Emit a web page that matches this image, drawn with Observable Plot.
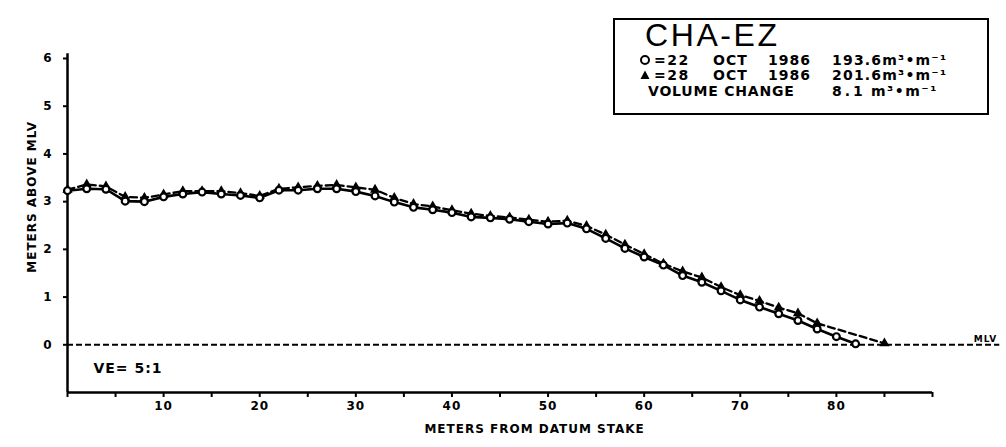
<!DOCTYPE html>
<html>
<head>
<meta charset="utf-8">
<script src="https://cdn.jsdelivr.net/npm/d3@7"></script>
<script src="https://cdn.jsdelivr.net/npm/@observablehq/plot@0.6"></script>
<style>
  html, body { margin: 0; padding: 0; background: #fff; }
  #wrap { position: relative; width: 1006px; height: 447px; overflow: hidden; background: #fff; }
  #wrap svg text { letter-spacing: 1px; }
  #legend { position: absolute; left: 613px; top: 18px; width: 376px; height: 97px; box-sizing: border-box;
            border: 2px solid #000; background: #fff; color: #000; }
  #legend span { position: absolute; white-space: pre; line-height: 14px; font-family: "DejaVu Sans", sans-serif;
                 font-weight: bold; font-size: 14px; }
  #legend .title { font-family: "Liberation Sans", sans-serif; font-weight: normal; font-size: 32px; line-height: 32px; letter-spacing: 2.6px; }
  #legend svg { position: absolute; }
</style>
</head>
<body>
<div id="wrap"></div>
<script>
// ---- data ----
const stations22 = [0,2,4,6,8,10,12,14,16,18,20,22,24,26,28,30,32,34,36,38,40,42,44,46,48,50,52,54,56,58,60,62,64,66,68,70,72,74,76,78,80,82];
const elev22 = [3.23,3.27,3.26,3.01,3.00,3.10,3.16,3.20,3.16,3.13,3.08,3.24,3.24,3.27,3.27,3.21,3.12,2.99,2.88,2.83,2.77,2.68,2.66,2.63,2.58,2.53,2.55,2.43,2.23,2.02,1.84,1.67,1.45,1.31,1.13,0.94,0.79,0.65,0.51,0.33,0.17,0.02];
const stations28 = [0,2,4,6,8,10,12,14,16,18,20,22,24,26,28,30,32,34,36,38,40,42,44,46,48,50,52,54,56,58,60,62,64,66,68,70,72,74,76,78,85];
const elev28 = [3.25,3.36,3.32,3.10,3.08,3.15,3.22,3.22,3.22,3.18,3.12,3.27,3.30,3.33,3.35,3.30,3.25,3.08,2.95,2.90,2.82,2.75,2.70,2.67,2.62,2.58,2.60,2.49,2.31,2.10,1.90,1.70,1.54,1.41,1.21,1.04,0.92,0.78,0.66,0.45,0.03];
const xTicks = [0,5,10,15,20,25,30,35,40,45,50,55,60,65,70,75,80,85,90];
const xTickLabels = [10,20,30,40,50,60,70,80];
const yTicks = [0,1,2,3,4,5,6];
const mlvExtent = [0, 97];
const yLabel = "METERS ABOVE MLV";
const xLabel = "METERS FROM DATUM STAKE";
const veNote = [{x: 2.7, y: -0.5, t: "VE= 5:1"}];
const mlvNote = [{x: 94.3, y: 0, t: "MLV"}];
const legendTitle = "CHA-EZ";
const legendRows = [
  {sym: "circle", date: ["=22", "OCT", "1986"], vol: "193.6m³•m⁻¹"},
  {sym: "triangle", date: ["=28", "OCT", "1986"], vol: "201.6m³•m⁻¹"}
];
const changeLabel = "VOLUME CHANGE", changeValue = "8.1", changeUnit = "m³•m⁻¹";

const data22 = stations22.map((x, i) => ({x, y: elev22[i]}));
const data28 = stations28.map((x, i) => ({x, y: elev28[i]}));

const chart = Plot.plot({
  width: 1006, height: 447,
  marginLeft: 67, marginRight: 74, marginTop: 58, marginBottom: 55,
  x: {domain: [0, 90]},
  y: {domain: [-1, 6]},
  style: {fontFamily: "DejaVu Sans", fontSize: "12px", fontWeight: "bold", background: "white", color: "black"},
  marks: [
    Plot.ruleY([0], {x1: mlvExtent[0], x2: mlvExtent[1], strokeDasharray: "6,3", strokeWidth: 2}),
    Plot.ruleX([0], {y1: -1, y2: 6.1, strokeWidth: 2.5}),
    Plot.ruleY([-1], {x1: 0, x2: 90, strokeWidth: 2.5}),
    Plot.axisX({ticks: xTicks, tickSize: 5, tickPadding: 4, strokeWidth: 2,
      tickFormat: d => xTickLabels.includes(d) ? String(d) : "", label: null}),
    Plot.axisY({ticks: yTicks, tickSize: 4, tickPadding: 11, strokeWidth: 2, tickFormat: d => String(d), label: null}),
    Plot.line(data22, {x: "x", y: "y", stroke: "black", strokeWidth: 2.6}),
    Plot.line(data28, {x: "x", y: "y", stroke: "black", strokeWidth: 2.3, strokeDasharray: "7,4"}),
    Plot.dot(data28, {x: "x", y: "y", symbol: "triangle", fill: "black", r: 3.8}),
    Plot.dot(data22, {x: "x", y: "y", r: 3.4, fill: "white", stroke: "black", strokeWidth: 2.2}),
    Plot.text(veNote, {x: "x", y: "y", text: "t", textAnchor: "start", fontSize: 14}),
    Plot.text(mlvNote, {x: "x", y: "y", text: "t", textAnchor: "start", fontSize: 9, dy: -6}),
    Plot.text([{y: 3.1, t: yLabel}], {y: "y", text: "t", frameAnchor: "left", textAnchor: "middle", dx: -35, rotate: -90, fontSize: 12}),
    Plot.text([{x: 48.6, t: xLabel}], {x: "x", text: "t", frameAnchor: "bottom", textAnchor: "middle", dy: 40, fontSize: 12})
  ]
});
const wrap = document.getElementById("wrap");
wrap.appendChild(chart);

// ---- legend box ----
const lg = document.createElement("div");
lg.id = "legend";
function span(text, left, top, cls, ls) {
  const s = document.createElement("span");
  s.textContent = text;
  s.style.left = left + "px";
  s.style.top = top + "px";
  if (cls) s.className = cls;
  if (ls != null) s.style.letterSpacing = ls + "px";
  lg.appendChild(s);
}
span(legendTitle, 30, -1, "title");
legendRows.forEach((r, i) => {
  const top = 33 + i * 15;
  const ns = "http://www.w3.org/2000/svg";
  const icon = document.createElementNS(ns, "svg");
  icon.setAttribute("width", 12); icon.setAttribute("height", 12);
  icon.style.left = "24px"; icon.style.top = (top + 1) + "px";
  if (r.sym === "circle") {
    const c = document.createElementNS(ns, "circle");
    c.setAttribute("cx", 6); c.setAttribute("cy", 6); c.setAttribute("r", 4);
    c.setAttribute("fill", "white"); c.setAttribute("stroke", "black"); c.setAttribute("stroke-width", 2);
    icon.appendChild(c);
  } else {
    const p = document.createElementNS(ns, "path");
    p.setAttribute("d", "M6,1.5L10.5,10L1.5,10Z");
    p.setAttribute("fill", "black");
    icon.appendChild(p);
  }
  lg.appendChild(icon);
  span(r.date[0], 39, top, null, 1.5);
  span(r.date[1], 98, top, null, 1);
  span(r.date[2], 153, top, null, 1);
  span(r.vol, 217, top, null, 1.2);
});
span(changeLabel, 33, 64, null, 0.8);
span(changeValue, 217, 64, null, 3);
span(changeUnit, 256, 64, null, 1.5);
wrap.appendChild(lg);
</script>
</body>
</html>
